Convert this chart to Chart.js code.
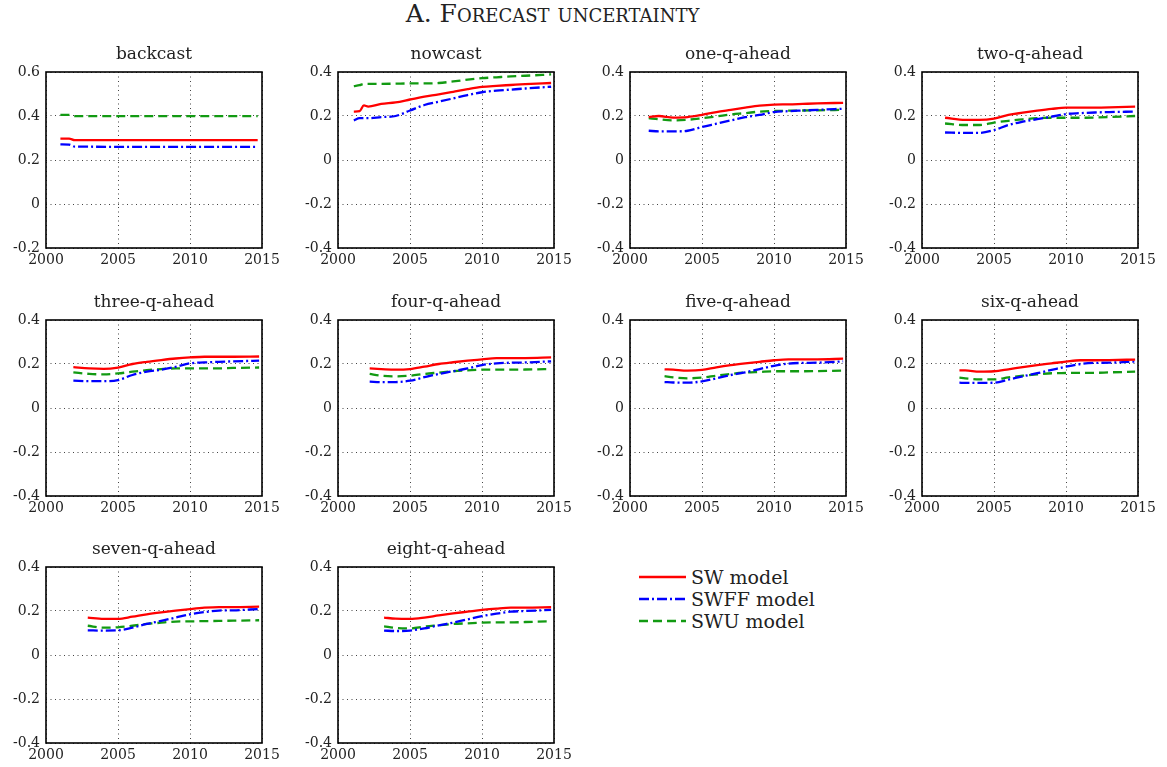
<!DOCTYPE html>
<html lang="en">
<head>
    <meta charset="UTF-8">
    <title>Forecast uncertainty</title>
    <script src="https://cdn.jsdelivr.net/npm/chart.js"></script>
    <style>
        body { margin: 0; background: #fff; width: 1167px; height: 767px; position: relative; overflow: hidden; }
        .main-title {
            position: absolute; left: -31px; top: -1px; width: 1167px; text-align: center;
            font-family: "DejaVu Serif", serif; font-size: 25px; font-variant: small-caps; color: #222;
        }
        .panel { position: absolute; }
        .legend {
            position: absolute; left: 639px; top: 566px;
            font-family: "DejaVu Serif", serif; font-size: 19px; color: #222;
        }
        .legend-row { display: flex; align-items: center; height: 22px; }
        .legend-row svg { margin-right: 5px; }
    </style>
</head>
<body>
    <div class="main-title">A. Forecast uncertainty</div>
    <div id="panels"></div>
    <div class="legend" id="legend"></div>

    <script>
        // panel titles, in grid order
        const panelTitles = ['backcast', 'nowcast', 'one-q-ahead', 'two-q-ahead', 'three-q-ahead',
            'four-q-ahead', 'five-q-ahead', 'six-q-ahead', 'seven-q-ahead', 'eight-q-ahead'];
        const seriesNames = ['SW model', 'SWFF model', 'SWU model'];
        const xTicks = [2000, 2005, 2010, 2015];

        // backcast
        const bcYears = [2001, 2001.6, 2002, 2006, 2010, 2014.7];
        const bcSW    = [0.297, 0.297, 0.290, 0.290, 0.290, 0.290];
        const bcSWFF  = [0.271, 0.270, 0.261, 0.260, 0.260, 0.260];
        const bcSWU   = [0.405, 0.405, 0.399, 0.399, 0.399, 0.399];

        // nowcast
        const nowYears = [2001.1, 2001.5, 2001.8, 2002.1, 2003, 2004, 2005, 2006, 2007, 2008, 2009, 2010, 2011, 2012, 2013, 2014.8];
        const nowSW    = [0.220, 0.222, 0.248, 0.243, 0.255, 0.262, 0.275, 0.288, 0.298, 0.310, 0.322, 0.332, 0.337, 0.341, 0.345, 0.350];
        const nowSWFF  = [0.180, 0.190, 0.190, 0.190, 0.195, 0.200, 0.225, 0.250, 0.265, 0.280, 0.295, 0.308, 0.315, 0.320, 0.325, 0.333];
        const nowSWU   = [0.336, 0.340, 0.346, 0.346, 0.346, 0.347, 0.348, 0.348, 0.350, 0.357, 0.365, 0.372, 0.376, 0.380, 0.383, 0.389];

        // one-q-ahead
        const q1Years = [2001.3, 2002, 2003, 2004, 2005, 2006, 2007, 2008, 2009, 2010, 2011, 2012, 2013, 2014.8];
        const q1SW    = [0.195, 0.200, 0.193, 0.195, 0.205, 0.218, 0.228, 0.238, 0.247, 0.252, 0.253, 0.255, 0.257, 0.260];
        const q1SWFF  = [0.133, 0.130, 0.130, 0.133, 0.150, 0.165, 0.180, 0.195, 0.205, 0.218, 0.222, 0.225, 0.228, 0.233];
        const q1SWU   = [0.190, 0.185, 0.180, 0.183, 0.190, 0.198, 0.207, 0.213, 0.220, 0.223, 0.224, 0.225, 0.226, 0.228];

        // two-q-ahead
        const q2Years = [2001.6, 2003, 2004, 2005, 2006, 2007, 2008, 2009, 2010, 2011, 2012, 2013, 2014.8];
        const q2SW    = [0.192, 0.182, 0.182, 0.188, 0.205, 0.215, 0.224, 0.232, 0.238, 0.238, 0.238, 0.239, 0.243];
        const q2SWFF  = [0.125, 0.123, 0.123, 0.136, 0.159, 0.174, 0.186, 0.197, 0.209, 0.213, 0.216, 0.218, 0.220];
        const q2SWU   = [0.166, 0.159, 0.159, 0.170, 0.178, 0.185, 0.190, 0.192, 0.192, 0.192, 0.193, 0.195, 0.200];

        // three-q-ahead
        const q3Years = [2001.9, 2003, 2004, 2005, 2006, 2007, 2008, 2009, 2010, 2011, 2012, 2013, 2014.8];
        const q3SW    = [0.186, 0.180, 0.178, 0.184, 0.200, 0.210, 0.218, 0.225, 0.230, 0.233, 0.233, 0.233, 0.234];
        const q3SWFF  = [0.124, 0.122, 0.122, 0.127, 0.150, 0.165, 0.174, 0.187, 0.203, 0.207, 0.210, 0.212, 0.215];
        const q3SWU   = [0.162, 0.155, 0.153, 0.157, 0.165, 0.172, 0.177, 0.180, 0.180, 0.180, 0.180, 0.182, 0.184];

        // four-q-ahead
        const q4Years = [2002.2, 2003, 2004, 2005, 2006, 2007, 2008, 2009, 2010, 2011, 2012, 2013, 2014.8];
        const q4SW    = [0.180, 0.177, 0.174, 0.177, 0.188, 0.200, 0.208, 0.215, 0.221, 0.227, 0.227, 0.227, 0.230];
        const q4SWFF  = [0.120, 0.118, 0.118, 0.124, 0.140, 0.155, 0.167, 0.180, 0.195, 0.203, 0.206, 0.207, 0.212];
        const q4SWU   = [0.155, 0.147, 0.144, 0.147, 0.155, 0.161, 0.167, 0.171, 0.174, 0.174, 0.174, 0.175, 0.177];

        // five-q-ahead
        const q5Years = [2002.4, 2003, 2004, 2005, 2006, 2007, 2008, 2009, 2010, 2011, 2012, 2013, 2014.8];
        const q5SW    = [0.176, 0.174, 0.170, 0.173, 0.185, 0.195, 0.203, 0.210, 0.217, 0.221, 0.221, 0.221, 0.224];
        const q5SWFF  = [0.118, 0.116, 0.115, 0.121, 0.135, 0.150, 0.162, 0.177, 0.192, 0.202, 0.205, 0.206, 0.212];
        const q5SWU   = [0.145, 0.139, 0.135, 0.138, 0.147, 0.155, 0.161, 0.164, 0.167, 0.167, 0.167, 0.168, 0.170];

        // six-q-ahead
        const q6Years = [2002.6, 2003, 2004, 2005, 2006, 2007, 2008, 2009, 2010, 2011, 2012, 2013, 2014.8];
        const q6SW    = [0.171, 0.171, 0.165, 0.167, 0.176, 0.186, 0.195, 0.203, 0.211, 0.217, 0.217, 0.218, 0.220];
        const q6SWFF  = [0.115, 0.114, 0.114, 0.115, 0.129, 0.144, 0.158, 0.173, 0.188, 0.200, 0.205, 0.206, 0.211];
        const q6SWU   = [0.138, 0.135, 0.130, 0.130, 0.139, 0.147, 0.153, 0.158, 0.159, 0.160, 0.160, 0.162, 0.165];

        // seven-q-ahead
        const q7Years = [2002.9, 2004, 2005, 2006, 2007, 2008, 2009, 2010, 2011, 2012, 2013, 2014.8];
        const q7SW    = [0.170, 0.164, 0.164, 0.174, 0.185, 0.194, 0.202, 0.209, 0.215, 0.218, 0.218, 0.220];
        const q7SWFF  = [0.112, 0.111, 0.112, 0.124, 0.141, 0.155, 0.170, 0.185, 0.195, 0.202, 0.203, 0.209];
        const q7SWU   = [0.133, 0.124, 0.126, 0.133, 0.141, 0.147, 0.152, 0.153, 0.154, 0.155, 0.156, 0.158];

        // eight-q-ahead
        const q8Years = [2003.2, 2004, 2005, 2006, 2007, 2008, 2009, 2010, 2011, 2012, 2013, 2014.8];
        const q8SW    = [0.170, 0.165, 0.164, 0.170, 0.180, 0.189, 0.197, 0.205, 0.211, 0.215, 0.215, 0.217];
        const q8SWFF  = [0.111, 0.109, 0.111, 0.121, 0.135, 0.147, 0.162, 0.177, 0.188, 0.197, 0.200, 0.205];
        const q8SWU   = [0.130, 0.123, 0.121, 0.129, 0.135, 0.141, 0.144, 0.147, 0.148, 0.148, 0.150, 0.153];

        const panelData = [
            [bcYears, bcSW, bcSWFF, bcSWU],
            [nowYears, nowSW, nowSWFF, nowSWU],
            [q1Years, q1SW, q1SWFF, q1SWU],
            [q2Years, q2SW, q2SWFF, q2SWU],
            [q3Years, q3SW, q3SWFF, q3SWU],
            [q4Years, q4SW, q4SWFF, q4SWU],
            [q5Years, q5SW, q5SWFF, q5SWU],
            [q6Years, q6SW, q6SWFF, q6SWU],
            [q7Years, q7SW, q7SWFF, q7SWU],
            [q8Years, q8SW, q8SWFF, q8SWU]
        ];

        // styles
        const lineColors = ['#ff0000', '#0000ff', '#129a12'];
        const lineDashes = [[], [10, 3, 2, 3], [9, 5]];
        const FONT = '"DejaVu Serif", serif';
        const TEXT = '#222';

        // layout of the plot boxes (px)
        const colLeft = [46, 338, 630, 922];
        const rowTop = [72, 320, 567];
        const plotW = 216, plotH = 176;
        // an empty right axis as wide as the left one keeps the title over the plot centre
        const yAxisW = 46, titleH = 30, xAxisH = 22;

        const framePlugin = {
            id: 'frame',
            afterDraw(chart) {
                const a = chart.chartArea, ctx = chart.ctx;
                ctx.save();
                ctx.strokeStyle = '#000';
                ctx.lineWidth = 1.6;
                ctx.strokeRect(a.left, a.top, a.right - a.left, a.bottom - a.top);
                ctx.restore();
            }
        };

        const fmtY = v => Math.abs(v) < 1e-9 ? '0' : v.toFixed(1);

        const host = document.getElementById('panels');
        panelTitles.forEach((title, i) => {
            const col = i % 4, row = Math.floor(i / 4);
            const w = yAxisW + plotW + yAxisW, h = titleH + plotH + xAxisH;
            const div = document.createElement('div');
            div.className = 'panel';
            div.style.left = (colLeft[col] - yAxisW) + 'px';
            div.style.top = (rowTop[row] - titleH) + 'px';
            const canvas = document.createElement('canvas');
            canvas.width = w;
            canvas.height = h;
            div.appendChild(canvas);
            host.appendChild(div);

            const [years, ...vals] = panelData[i];
            const isBack = i === 0;

            new Chart(canvas, {
                type: 'line',
                data: {
                    datasets: vals.map((v, k) => ({
                        label: seriesNames[k],
                        data: years.map((x, j) => ({ x: x, y: v[j] })),
                        borderColor: lineColors[k],
                        borderDash: lineDashes[k],
                        borderWidth: 2.3,
                        pointRadius: 0,
                        cubicInterpolationMode: 'monotone',
                        fill: false
                    }))
                },
                options: {
                    responsive: false,
                    animation: false,
                    devicePixelRatio: 1,
                    layout: { padding: 0 },
                    plugins: {
                        legend: { display: false },
                        tooltip: { enabled: false },
                        title: {
                            display: true,
                            text: title,
                            color: TEXT,
                            font: { family: FONT, size: 17, weight: 'normal', lineHeight: 1.2 },
                            padding: { top: 2, bottom: 7.6 }
                        }
                    },
                    scales: {
                        x: {
                            type: 'linear',
                            min: 2000, max: 2015,
                            afterBuildTicks: s => { s.ticks = xTicks.map(v => ({ value: v })); },
                            afterFit: s => { s.height = xAxisH; },
                            grid: { color: '#444', lineWidth: 1, drawTicks: false },
                            border: { display: false, dash: [1, 3.5] },
                            ticks: {
                                color: TEXT, padding: 4, maxRotation: 0, autoSkip: false,
                                font: { family: FONT, size: 14 },
                                callback: v => String(v)
                            }
                        },
                        y: {
                            min: isBack ? -0.2 : -0.4,
                            max: isBack ? 0.6 : 0.4,
                            afterFit: s => { s.width = yAxisW; },
                            grid: { color: '#444', lineWidth: 1, drawTicks: false },
                            border: { display: false, dash: [1, 3.5] },
                            ticks: {
                                stepSize: 0.2, color: TEXT, padding: 6,
                                font: { family: FONT, size: 14 },
                                callback: v => fmtY(v)
                            }
                        },
                        yPad: {
                            position: 'right',
                            afterFit: s => { s.width = yAxisW; },
                            grid: { display: false },
                            border: { display: false },
                            ticks: { display: false }
                        }
                    }
                },
                plugins: [framePlugin]
            });
        });

        // legend with line samples
        const legend = document.getElementById('legend');
        seriesNames.forEach((name, k) => {
            const rowEl = document.createElement('div');
            rowEl.className = 'legend-row';
            const dash = lineDashes[k].length ? lineDashes[k].join(' ') : 'none';
            rowEl.innerHTML = '<svg width="47" height="22"><line x1="0" y1="11" x2="47" y2="11" stroke="' +
                lineColors[k] + '" stroke-width="2.3" stroke-dasharray="' + dash + '"/></svg><span>' + name + '</span>';
            legend.appendChild(rowEl);
        });
    </script>
</body>
</html>
